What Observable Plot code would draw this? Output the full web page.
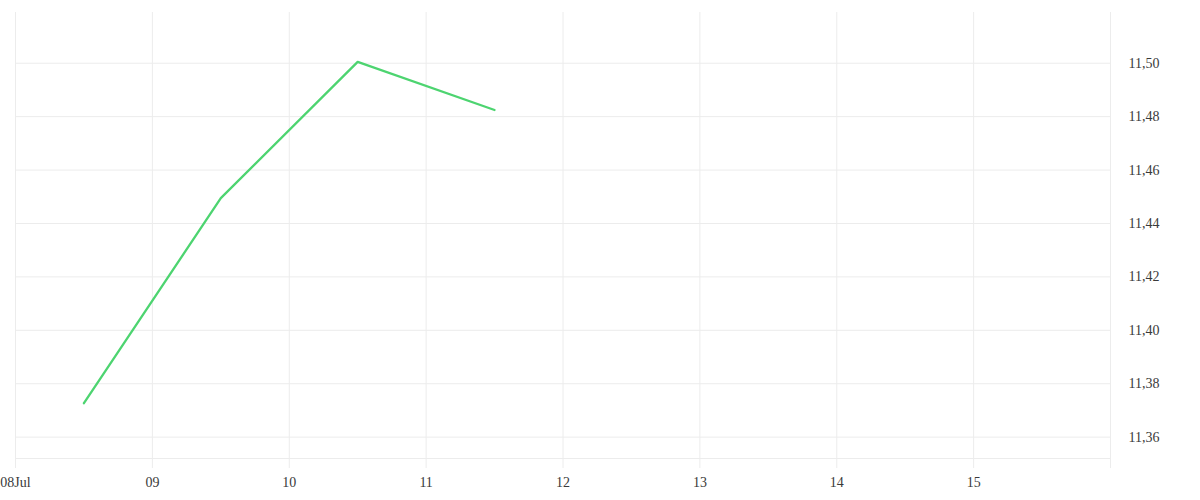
<!DOCTYPE html>
<html><head><meta charset="utf-8">
<script src="https://cdn.jsdelivr.net/npm/d3@7"></script>
<script src="https://cdn.jsdelivr.net/npm/@observablehq/plot@0.6"></script>
<style>body{margin:0;background:#fff}</style>
</head><body><div id="chart"></div>
<script>
// Data
const pointDates = ["2024-07-08T12:00Z", "2024-07-09T12:00Z", "2024-07-10T12:00Z", "2024-07-11T12:00Z"];
const pointValues = [11.3727, 11.4495, 11.5005, 11.4825];

const xTickDates = ["2024-07-08", "2024-07-09", "2024-07-10", "2024-07-11", "2024-07-12", "2024-07-13", "2024-07-14", "2024-07-15", "2024-07-16"];
const xTickLabels = ["08Jul", "09", "10", "11", "12", "13", "14", "15", ""];
const yTicks = [11.36, 11.38, 11.40, 11.42, 11.44, 11.46, 11.48, 11.50];
const xDomain = ["2024-07-08", "2024-07-16"];
const yDomain = [11.352, 11.519];

const toDate = s => new Date(s.length === 10 ? s + "T00:00Z" : s);
const data = pointDates.map((d, i) => ({date: toDate(d), value: pointValues[i]}));
const xTicks = xTickDates.map(toDate);
const labelMap = new Map(xTicks.map((d, i) => [+d, xTickLabels[i]]));
const gridColor = "#ececec";

const chart = Plot.plot({
  width: 1200,
  height: 500,
  marginLeft: 15,
  marginRight: 90,
  marginTop: 12,
  marginBottom: 42,
  style: {fontFamily: "Liberation Serif", fontSize: "14px", color: "#3a3a3a", background: "#fff"},
  x: {type: "utc", domain: xDomain.map(toDate)},
  y: {domain: yDomain},
  marks: [
    Plot.gridY(yTicks, {stroke: gridColor, strokeOpacity: 1}),
    Plot.ruleY([yDomain[0]], {stroke: gridColor, strokeOpacity: 1}),
    Plot.gridX(xTicks, {stroke: gridColor, strokeOpacity: 1}),
    Plot.axisX(xTicks, {tickSize: 10, tickPadding: 9, stroke: gridColor, strokeOpacity: 1, tickFormat: d => labelMap.get(+d), label: null}),
    Plot.axisY(yTicks, {anchor: "right", tickSize: 0, tickPadding: 18, tickFormat: d => d.toFixed(2).replace(".", ","), label: null}),
    Plot.line(data, {x: "date", y: "value", stroke: "#4dd470", strokeWidth: 2.3})
  ]
});
document.getElementById("chart").appendChild(chart);
</script>
</body></html>
